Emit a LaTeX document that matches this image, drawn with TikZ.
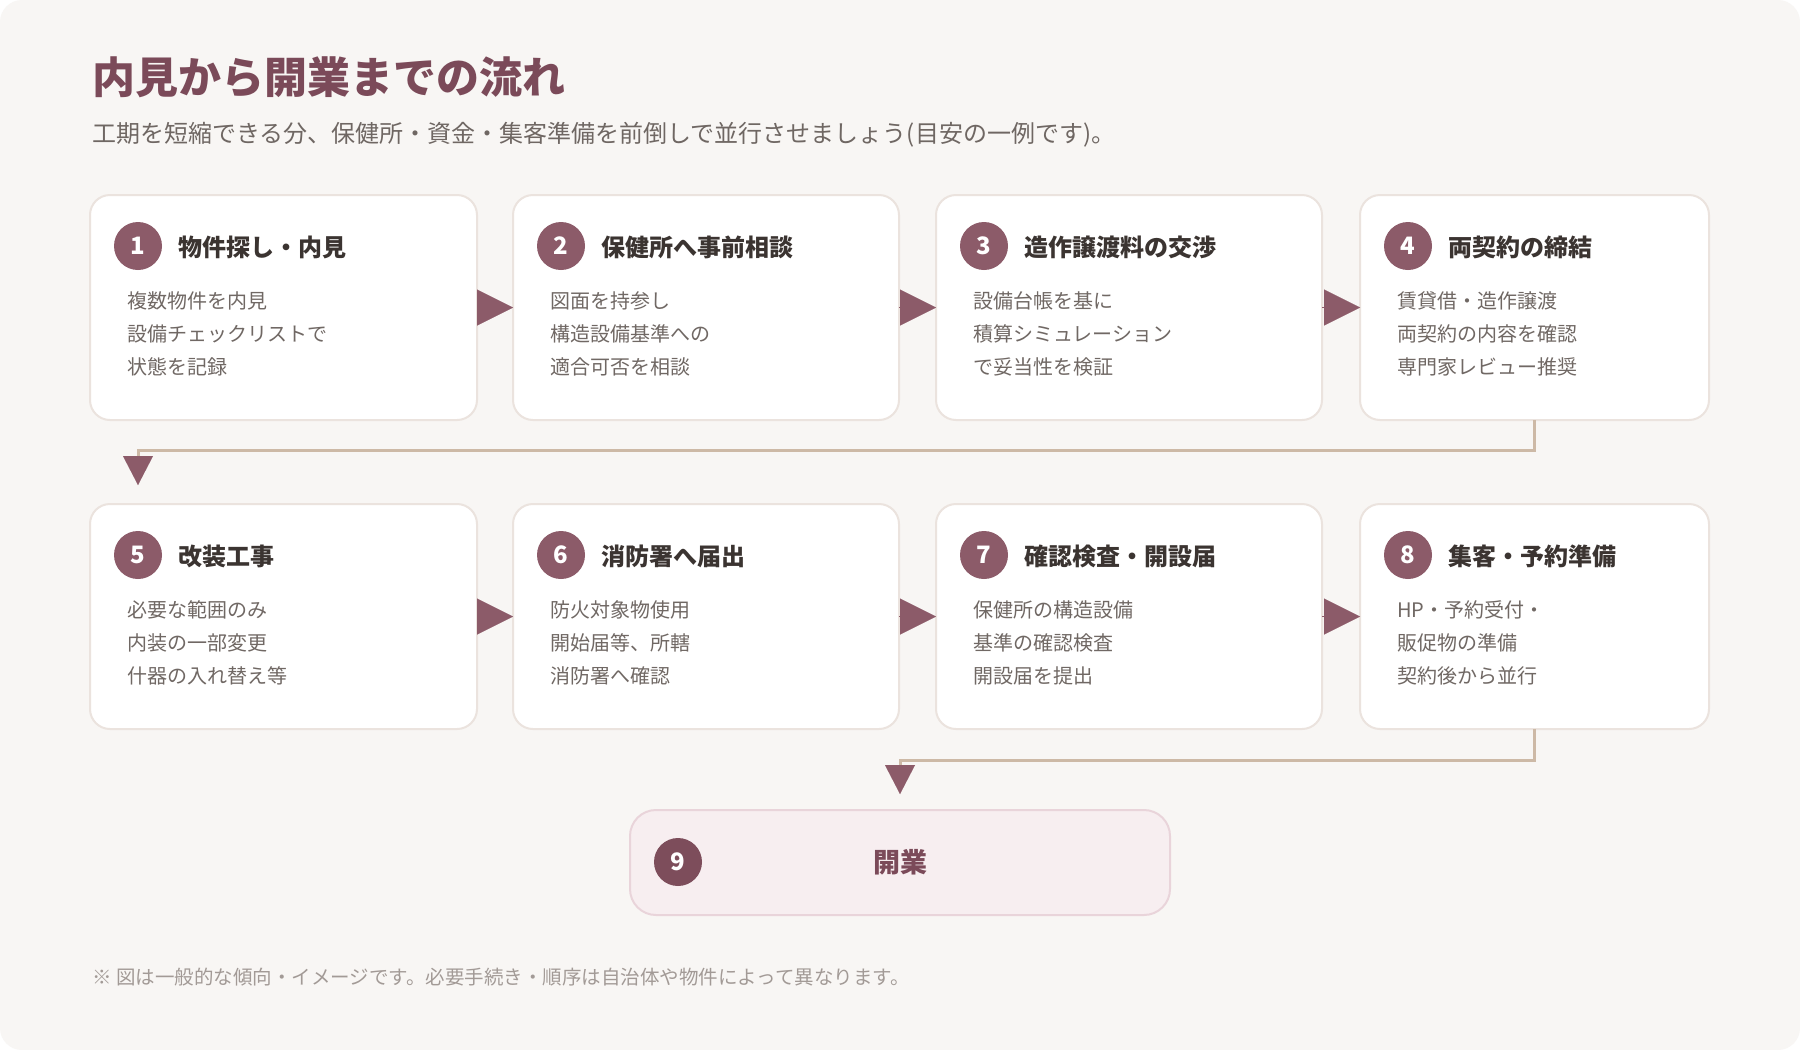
\documentclass[tikz,border=0pt]{standalone}
\usepackage{fontspec}
\setmainfont{Noto Sans CJK JP}
\usetikzlibrary{arrows.meta}
\definecolor{bgc}{HTML}{F8F6F4}
\definecolor{cardborder}{HTML}{EBE3DE}
\definecolor{accent}{HTML}{8C5B69}
\definecolor{headc}{HTML}{7B4A59}
\definecolor{titlec}{HTML}{3B3431}
\definecolor{bodyc}{HTML}{706864}
\definecolor{subc}{HTML}{6F6763}
\definecolor{footc}{HTML}{A29A96}
\definecolor{connc}{HTML}{CDB9A6}
\definecolor{endfill}{HTML}{F7EEF0}
\definecolor{endborder}{HTML}{E9D4DA}
\definecolor{enddark}{HTML}{7D4D5B}
\tikzset{
  card/.style={draw=cardborder, line width=2pt, fill=white, rounded corners=20pt,
    minimum height=225pt, inner sep=0pt, outer sep=0pt},
  badge/.style={circle, fill=accent, minimum size=48pt, inner sep=0pt, text=white,
    font=\bfseries\fontsize{24}{24}\selectfont},
  ctitle/.style={anchor=west, inner sep=0pt, text=titlec,
    font=\bfseries\fontsize{24}{24}\selectfont},
  cbody/.style={anchor=west, inner sep=0pt, text=bodyc,
    font=\fontsize{20}{20}\selectfont},
  harrow/.style={draw=accent, line width=0.5pt,
    -{Triangle[length=36pt,width=36pt,line width=0.01pt]}},
  conn/.style={draw=connc, line width=3pt,
    -{Triangle[length=29pt,width=30pt,line width=0.01pt,color=accent]}},
}
\newcommand\mkcard[9]{%
  \node[card, minimum width=#4pt, anchor=north west] (c#1) at (#2,#3) {};
  \node[badge] (b#1) at ([xshift=48pt,yshift=-51pt]c#1.north west) {#5};
  \node[ctitle] (h#1) at ([xshift=88pt,yshift=-52pt]c#1.north west) {#6};
  \node[cbody] (p#1a) at ([xshift=37pt,yshift=-106pt]c#1.north west) {#7};
  \node[cbody] (p#1b) at ([xshift=37pt,yshift=-139pt]c#1.north west) {#8};
  \node[cbody] (p#1c) at ([xshift=37pt,yshift=-172pt]c#1.north west) {#9};
}
\begin{document}
\begin{tikzpicture}[x=1pt,y=-1pt]
\useasboundingbox (0,0) rectangle (1800,1050);
\fill[white] (0,0) rectangle (1800,1050);
\fill[bgc, rounded corners=22pt] (0,0) rectangle (1800,1050);

\node[anchor=west, inner sep=0pt, text=headc, font=\bfseries\fontsize{43}{43}\selectfont] (title) at (92,77) {内見から開業までの流れ};
\node[anchor=west, inner sep=0pt, text=subc, font=\fontsize{24}{24}\selectfont] (sub) at (92,135) {工期を短縮できる分、保健所・資金・集客準備を前倒しで並行させましょう(目安の一例です)。};

\mkcard{1}{90}{195}{387}{1}{物件探し・内見}{複数物件を内見}{設備チェックリストで}{状態を記録}
\mkcard{2}{513}{195}{386}{2}{保健所へ事前相談}{図面を持参し}{構造設備基準への}{適合可否を相談}
\mkcard{3}{936}{195}{386}{3}{造作譲渡料の交渉}{設備台帳を基に}{積算シミュレーション}{で妥当性を検証}
\mkcard{4}{1360}{195}{349}{4}{両契約の締結}{賃貸借・造作譲渡}{両契約の内容を確認}{専門家レビュー推奨}
\mkcard{5}{90}{504}{387}{5}{改装工事}{必要な範囲のみ}{内装の一部変更}{什器の入れ替え等}
\mkcard{6}{513}{504}{386}{6}{消防署へ届出}{防火対象物使用}{開始届等、所轄}{消防署へ確認}
\mkcard{7}{936}{504}{386}{7}{確認検査・開設届}{保健所の構造設備}{基準の確認検査}{開設届を提出}
\mkcard{8}{1360}{504}{349}{8}{集客・予約準備}{HP・予約受付・}{販促物の準備}{契約後から並行}

\node[draw=endborder, line width=2pt, fill=endfill, rounded corners=26pt, minimum width=540pt, minimum height=105pt, inner sep=0pt, outer sep=0pt, anchor=north west] (c9) at (630,810) {};
\node[badge, fill=enddark] (b9) at (678,862) {9};
\node[inner sep=0pt, text=headc, font=\bfseries\fontsize{27}{27}\selectfont] (h9) at (900,862) {開業};

\draw[harrow] (c1.east) -- (c2.west);
\draw[harrow] (c2.east) -- (c3.west);
\draw[harrow] (c3.east) -- (c4.west);
\draw[harrow] (c5.east) -- (c6.west);
\draw[harrow] (c6.east) -- (c7.west);
\draw[harrow] (c7.east) -- (c8.west);

\coordinate (k5) at (138,485);
\coordinate (k9) at (900,794);
\draw[conn] (c4.south) -- ++(0,30) -| (k5);
\draw[conn] (c8.south) -- ++(0,31) -| (k9);

\node[anchor=west, inner sep=0pt, text=footc, font=\fontsize{19.5}{19.5}\selectfont] (foot) at (92,977) {※ 図は一般的な傾向・イメージです。必要手続き・順序は自治体や物件によって異なります。};
\end{tikzpicture}
\end{document}
